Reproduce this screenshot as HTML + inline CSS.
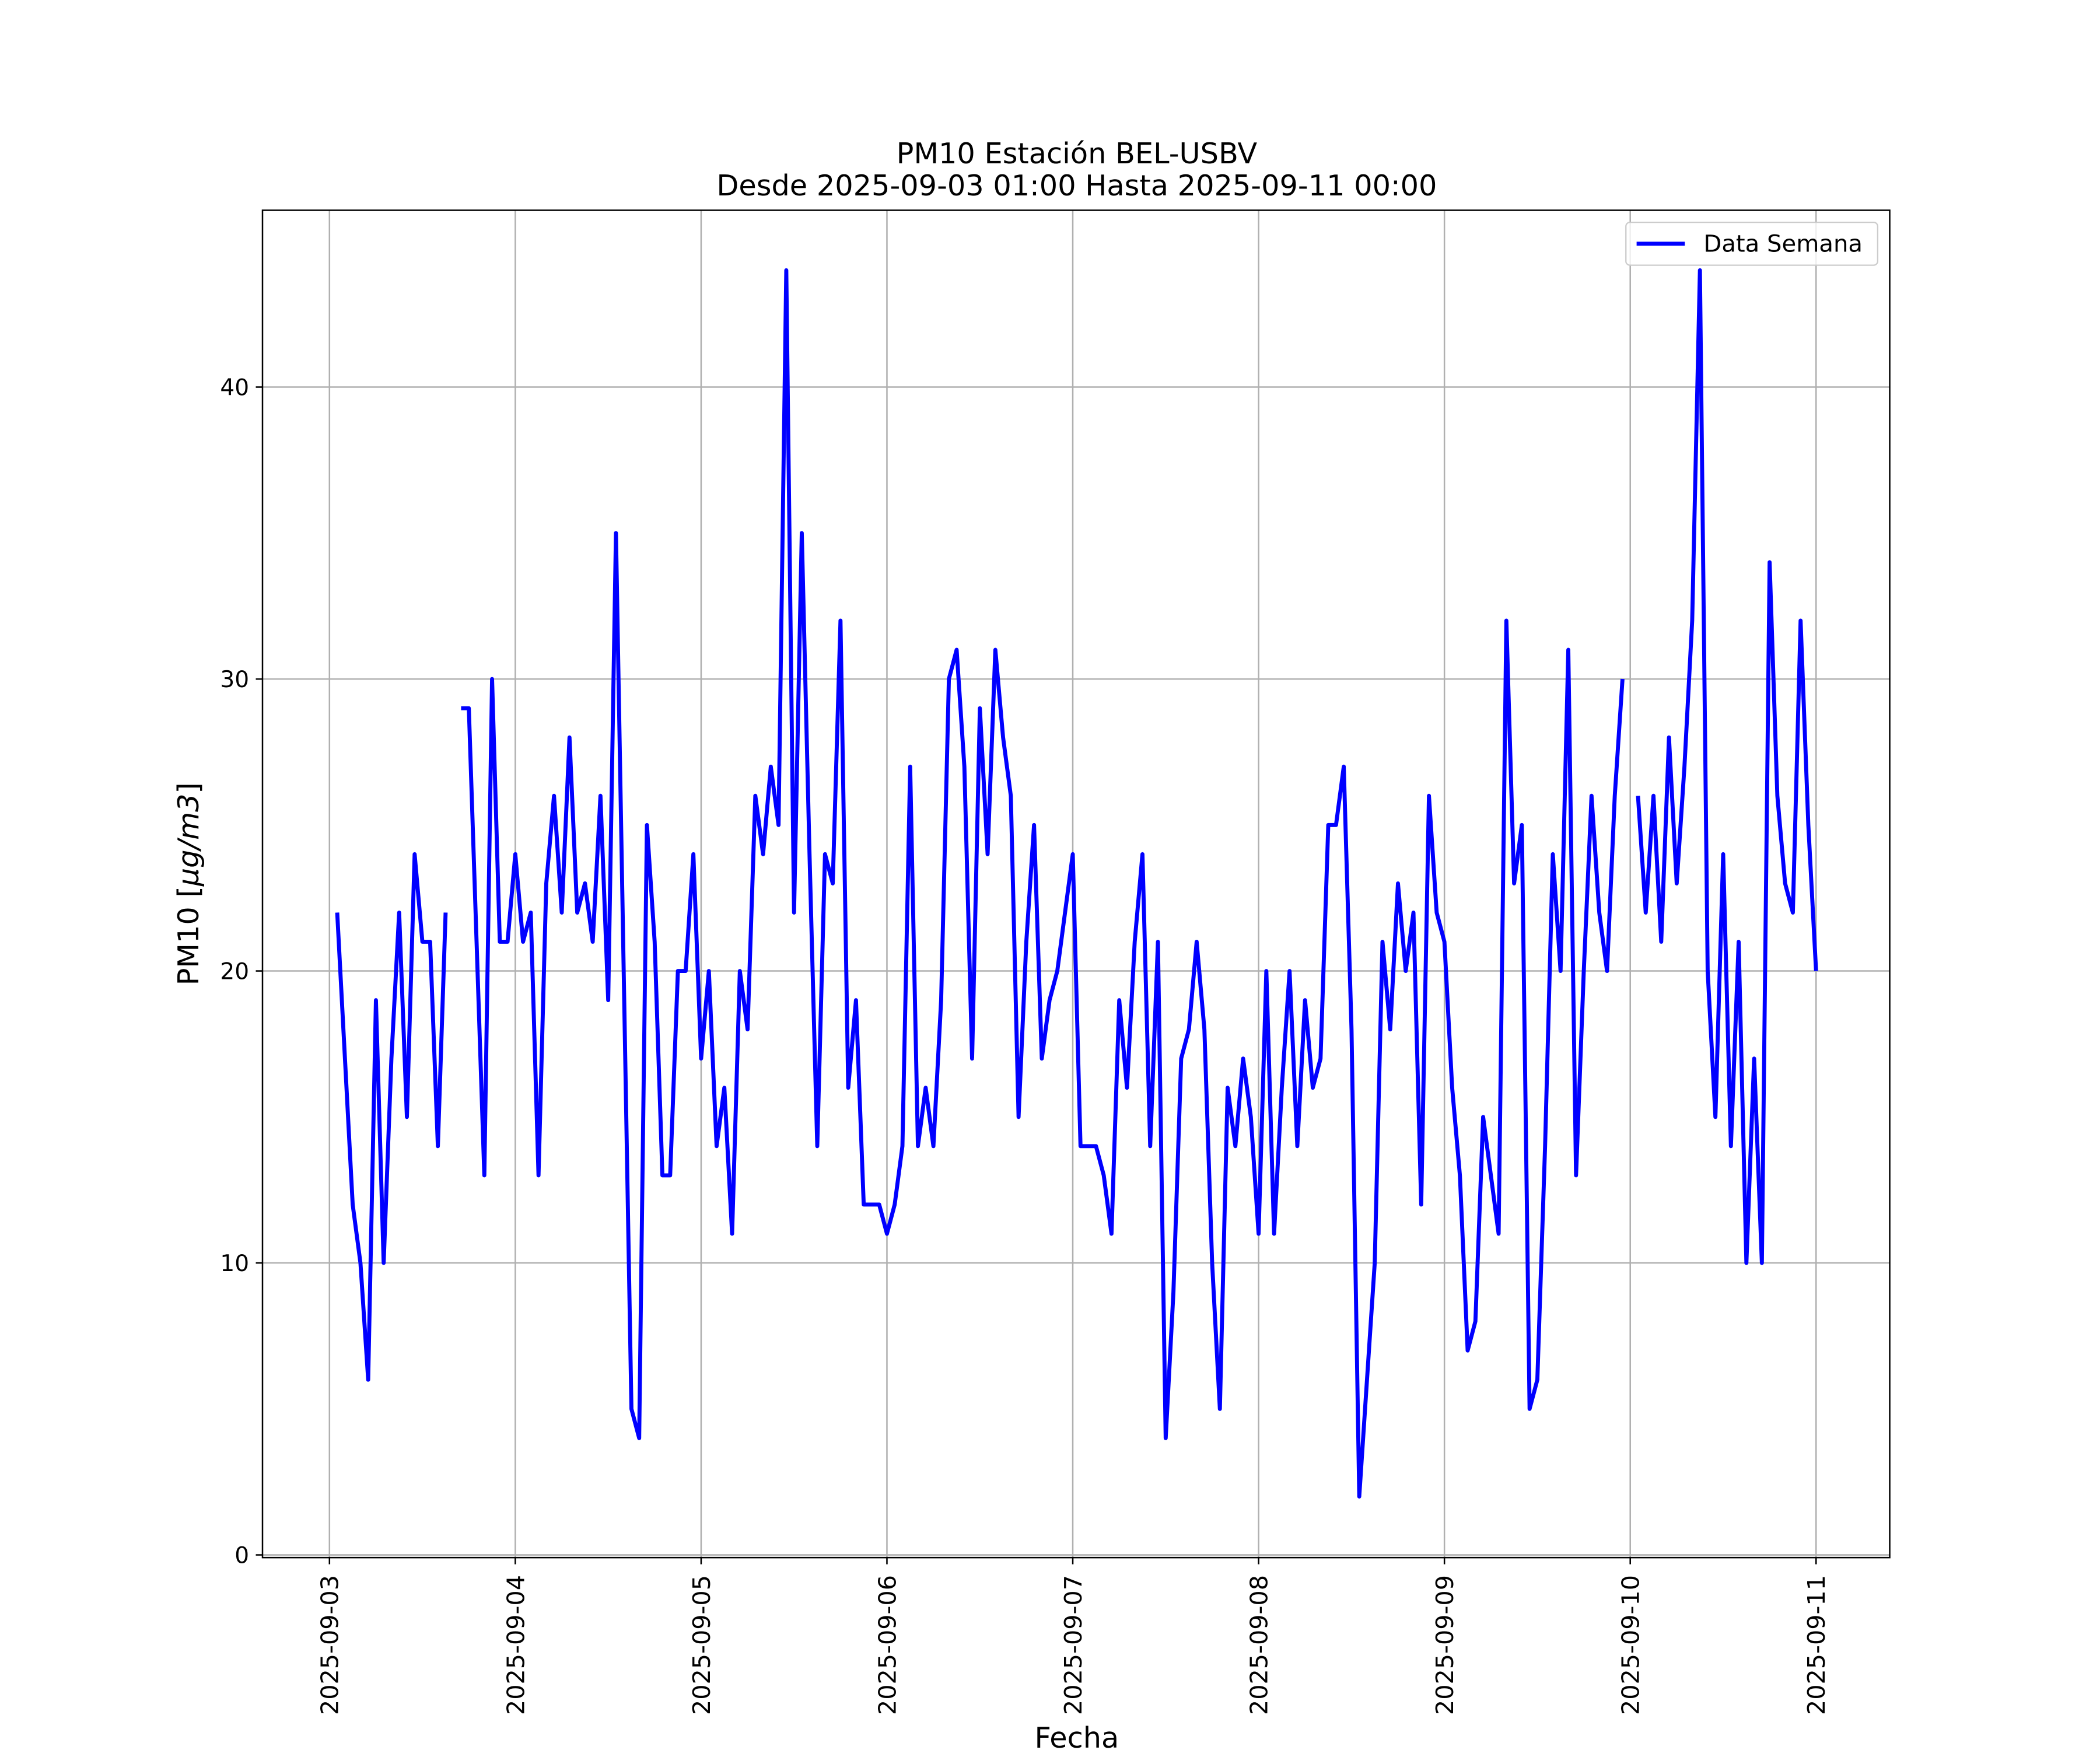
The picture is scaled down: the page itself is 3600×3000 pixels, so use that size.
<!DOCTYPE html>
<html><head><meta charset="utf-8"><style>
html,body{margin:0;padding:0;background:#fff;}
svg{display:block;font-family:"DejaVu Sans","Liberation Sans",sans-serif;}
</style></head><body>
<svg id="chart" width="3600" height="3000" viewBox="0 0 1568 1306.67" xmlns="http://www.w3.org/2000/svg">
<rect width="1568" height="1306.67" fill="#fff"/>
<g id="grid"></g>
<g id="series"></g>
<rect x="196" y="157" width="1215" height="1006" fill="none" stroke="#000" stroke-width="1.1"/>
<g id="axes"></g>
<text x="804" y="122" font-size="21.5" text-anchor="middle">PM10 Estación BEL-USBV</text>
<text x="804" y="146" font-size="21.5" text-anchor="middle">Desde 2025-09-03 01:00 Hasta 2025-09-11 00:00</text>
<text x="804" y="1305" font-size="21.5" text-anchor="middle">Fecha</text>
<text transform="translate(148,660) rotate(-90)" font-size="21.5" text-anchor="middle">PM10 [<tspan font-style="italic">μg/m3</tspan>]</text>
<g>
<rect x="1214" y="166" width="188" height="32" rx="3" fill="#fff" fill-opacity="0.8" stroke="#ccc" stroke-width="1"/>
<line x1="1222" y1="182" x2="1258" y2="182" stroke="#0000ff" stroke-width="3"/>
<text x="1272" y="188" font-size="17.5">Data Semana</text>
</g>
</svg>
<script>
const dayLabels = ["2025-09-03","2025-09-04","2025-09-05","2025-09-06","2025-09-07","2025-09-08","2025-09-09","2025-09-10","2025-09-11"];
const yTicks = [0,10,20,30,40];
const hoursFromStart = Array.from({length:192},(_, i)=>i+1);
const pm10Values = [22,17,12,10,6,19,10,17,22,15,24,21,21,14,22,null,
29,29,21,13,30,21,21,24,
21,22,13,23,26,22,28,22,23,21,26,19,35,20,5,4,
25,21,13,13,20,20,24,17,
20,14,16,11,20,18,26,24,27,25,44,22,
35,24,14,24,23,32,16,19,12,12,12,11,
12,14,27,14,16,14,19,30,31,27,17,29,
24,31,28,26,15,21,25,17,19,20,22,24,
14,14,14,13,11,19,16,21,24,14,21,4,
9,17,18,21,18,10,5,16,14,17,15,11,
20,11,16,20,14,19,16,17,25,25,27,18,
2,6,10,21,18,23,20,22,12,26,22,21,
16,13,7,8,15,13,11,32,23,25,5,6,
14,24,20,31,13,20,26,22,20,26,30,null,
26,22,26,21,28,23,27,32,44,20,15,24,
14,21,10,17,10,34,26,23,22,32,25,20];

const NS="http://www.w3.org/2000/svg";
const X0=246, DAY=138.75, Y0=1161, UNIT=21.8;
function xScale(h){return X0+h*DAY/24;}
function yScale(v){return Y0-v*UNIT;}
function mk(tag,attrs,parent){const e=document.createElementNS(NS,tag);for(const k in attrs)e.setAttribute(k,attrs[k]);parent.appendChild(e);return e;}
const grid=document.getElementById('grid'), axes=document.getElementById('axes'), series=document.getElementById('series');

dayLabels.forEach((lab,i)=>{
  const x=xScale(i*24);
  const g=mk('line',{x1:x,x2:x,y1:157,y2:1163,stroke:'#b0b0b0','stroke-width':1.1},grid);
  
  
  const t=mk('line',{x1:x,x2:x,y1:1163,y2:1168,stroke:'#000','stroke-width':1.1},axes);
  
  
  const tx=mk('text',{transform:`translate(${x+6.5},1176) rotate(-90)`,'font-size':18,'text-anchor':'end'},axes);
  tx.textContent=lab;
  
  
});
yTicks.forEach(v=>{
  const y=yScale(v);
  const g=mk('line',{x1:196,x2:1411,y1:y,y2:y,stroke:'#b0b0b0','stroke-width':1.1},grid);
  
  
  const t=mk('line',{x1:191,x2:196,y1:y,y2:y,stroke:'#000','stroke-width':1.1},axes);
  
  
  const tx=mk('text',{x:186,y:y+6,'font-size':17,'text-anchor':'end'},axes);
  tx.textContent=String(v);
  
  
});
let d='', pen=false;
pm10Values.forEach((v,i)=>{
  if(v===null){pen=false;return;}
  d+=(pen?'L':'M')+xScale(hoursFromStart[i]).toFixed(2)+','+yScale(v).toFixed(2)+' ';
  pen=true;
});
const line=mk('path',{d:d,fill:'none',stroke:'#0000ff','stroke-width':3,'stroke-linejoin':'round'},series);


</script>
</body></html>
